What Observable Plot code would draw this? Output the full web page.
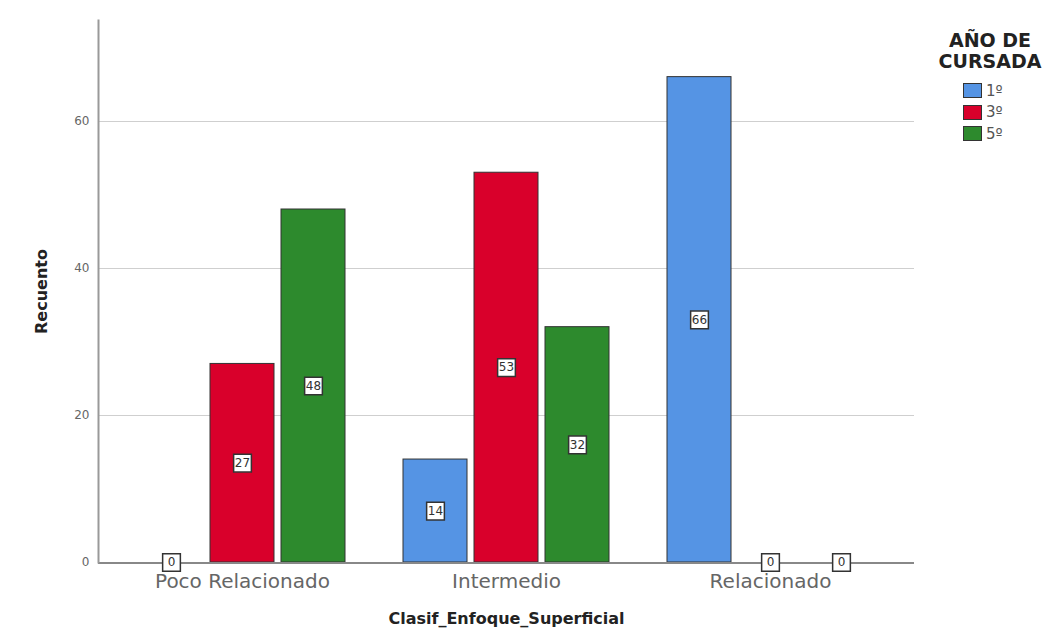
<!DOCTYPE html>
<html><head><meta charset="utf-8">
<script src="https://cdn.jsdelivr.net/npm/d3@7"></script>
<script src="https://cdn.jsdelivr.net/npm/@observablehq/plot@0.6"></script>
<style>
body{margin:0;background:#fff;font-family:"DejaVu Sans",sans-serif}
#wrap{position:relative;width:1059px;height:637px}
#legend{position:absolute;left:930px;top:30px;width:120px}
#legend .t{font-weight:bold;font-size:19px;line-height:21px;text-align:center;color:#222;width:120px}
#legend .it{display:flex;align-items:center;height:21.5px;margin-left:33px;font-size:15px;color:#555}
#legend .sw{width:17px;height:13px;border:1px solid #333;margin-right:4px}
</style></head><body>
<div id="wrap"><div id="legend"></div></div>
<script>
const categories = ["Poco Relacionado", "Intermedio", "Relacionado"];
const years = ["1º", "3º", "5º"];
const counts1 = [0, 14, 66];
const counts3 = [27, 53, 0];
const counts5 = [48, 32, 0];
const yTicks = [0, 20, 40, 60];
const colors = ["#5594e4", "#d9002b", "#2d8a2d"];
const legendTitle = ["AÑO DE", "CURSADA"];

const series = [counts1, counts3, counts5];
const data = categories.flatMap((c, i) => years.map((yr, j) => ({cat: c, year: yr, n: series[j][i]})));

const chart = Plot.plot({
  width: 1059, height: 637,
  marginLeft: 109, marginRight: 156, marginTop: 20, marginBottom: 75,
  style: {fontFamily: "'DejaVu Sans', sans-serif", background: "transparent"},
  fx: {domain: categories, padding: 0, label: null},
  x: {domain: years, paddingInner: 0.094, paddingOuter: 0.4, axis: null},
  y: {domain: [0, 73.7], axis: null},
  color: {domain: years, range: colors},
  marks: [
    Plot.ruleY(yTicks.slice(1), {stroke: "#cfcfcf", strokeWidth: 1.5, insetLeft: -12, insetRight: -12, shapeRendering: "crispEdges"}),
    Plot.barY(data, {fx: "cat", x: "year", y: "n", fill: "year", stroke: "#333", strokeWidth: 1}),
    Plot.ruleY([0], {stroke: "#888", strokeWidth: 2, insetLeft: -12, insetRight: -12, shapeRendering: "crispEdges"}),
    Plot.frame({anchor: "left", stroke: "#999", strokeWidth: 2, dx: -12, facetAnchor: "left"}),
    Plot.text(yTicks, {y: d => d, text: d => String(d), frameAnchor: "left", textAnchor: "end", dx: -21, fill: "#666", fontSize: 12, facetAnchor: "left"}),
    Plot.dot(data, {fx: "cat", x: "year", y: d => d.n / 2, symbol: "square", r: 10, fill: "white", stroke: "#333", strokeWidth: 1.5}),
    Plot.text(data, {fx: "cat", x: "year", y: d => d.n / 2, text: d => String(d.n), fill: "#333", fontSize: 12}),
    Plot.axisFx({anchor: "bottom", tickSize: 0, tickPadding: 11, fontSize: 20, color: "#666", label: null}),
    Plot.text(["Recuento"], {frameAnchor: "left", textAnchor: "middle", dx: -69, rotate: -90, fontWeight: "bold", fontSize: 16, fill: "#222", facet: "super"}),
    Plot.text(["Clasif_Enfoque_Superficial"], {frameAnchor: "bottom", dy: 61, fontWeight: "bold", fontSize: 16, fill: "#222", facet: "super"})
  ]
});
document.getElementById("wrap").prepend(chart);

const lg = document.getElementById("legend");
legendTitle.forEach(t => { const d = document.createElement("div"); d.className = "t"; d.textContent = t; lg.appendChild(d); });
const sp = document.createElement("div"); sp.style.height = "8px"; lg.appendChild(sp);
years.forEach((yr, j) => {
  const it = document.createElement("div"); it.className = "it";
  const sw = document.createElement("span"); sw.className = "sw"; sw.style.background = colors[j];
  const lb = document.createElement("span"); lb.textContent = yr;
  it.appendChild(sw); it.appendChild(lb); lg.appendChild(it);
});
</script>
</body></html>
